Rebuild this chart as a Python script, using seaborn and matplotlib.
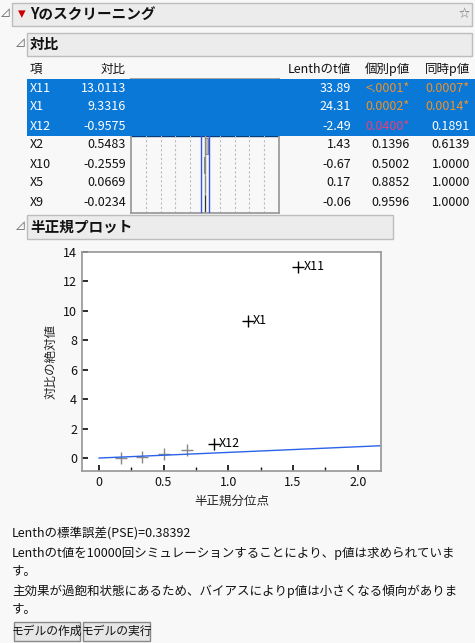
import numpy as np
import pandas as pd
import matplotlib
matplotlib.use("Agg")
import matplotlib.pyplot as plt
from matplotlib.patches import Rectangle
import seaborn as sns

terms = ["X11", "X1", "X12", "X2", "X10", "X5", "X9"]
contrasts = [13.0113, 9.3316, -0.9575, 0.5483, -0.2559, 0.0669, -0.0234]
lenth_t = ["33.89", "24.31", "-2.49", "1.43", "-0.67", "0.17", "-0.06"]
p_indiv = ["<.0001*", "0.0002*", "0.0400*", "0.1396", "0.5002", "0.8852", "0.9596"]
p_simul = ["0.0007*", "0.0014*", "0.1891", "0.6139", "1.0000", "1.0000", "1.0000"]
selected = [True, True, True, False, False, False, False]

# half-normal plot
hn_quantile = [1.54, 1.15, 0.89, 0.68, 0.50, 0.33, 0.17]
abs_contrast = [abs(c) for c in contrasts]
pse = 0.38392
line_x = [0.0, 2.2]

W, H = 475, 643
BG = "#F8F8F8"
BLUE = "#0A78D7"

sns.set_theme(style="white")
plt.rcParams["font.family"] = ["Noto Sans CJK JP", "DejaVu Sans"]
fig = plt.figure(figsize=(W / 100, H / 100), dpi=100, facecolor=BG)


def fx(x):
    return x / W


def fy(y):
    return 1 - y / H


def txt(x, y, s, ha="left", color="#111111", size=9, weight="normal"):
    fig.text(fx(x), fy(y), s, ha=ha, va="center", color=color, fontsize=size, fontweight=weight)


def header(x0, y0, x1, y1, label):
    fig.patches.append(Rectangle((fx(x0), fy(y1)), fx(x1 - x0), (y1 - y0) / H,
                                 transform=fig.transFigure, facecolor="#ECECEC",
                                 edgecolor="#BDBDBD", lw=1))
    txt(x0 - 12, (y0 + y1) / 2, "⊿", color="#666666", size=8)


# headers
header(12, 3, 472, 26, "")
txt(18, 14, "▾", color="#CC0000", size=11)
txt(30, 14, "Yのスクリーニング", size=10.5, weight="bold")
txt(464, 14, "☆", ha="center", color="#777777", size=8)
header(27, 33, 472, 56, "")
txt(30, 44, "対比", size=10.5, weight="bold")
header(27, 215, 393, 239, "")
txt(30, 227, "半正規プロット", size=10.5, weight="bold")

# table
row0, rh = 88, 19
fig.patches.append(Rectangle((fx(27), fy(row0 - 9.5 + 3 * rh)), fx(448), 3 * rh / H,
                             transform=fig.transFigure, facecolor=BLUE, edgecolor="none"))
txt(30, 69, "項")
txt(126, 69, "対比", ha="right")
txt(351, 69, "Lenthのt値", ha="right")
txt(410, 69, "個別p値", ha="right")
txt(470, 69, "同時p値", ha="right")
for i, t in enumerate(terms):
    y = row0 + i * rh
    c = "white" if selected[i] else "#111111"
    txt(30, y, t, color=c)
    txt(126, y, f"{contrasts[i]:.4f}", ha="right", color=c)
    txt(351, y, lenth_t[i], ha="right", color=c)
    pc = "#111111"
    if p_indiv[i].endswith("*"):
        pc = "#E8407A" if i == 2 else "#F0922A"
    txt(410, y, p_indiv[i], ha="right", color=pc)
    sc = "#F0922A" if p_simul[i].endswith("*") else c
    txt(470, y, p_simul[i], ha="right", color=sc)

axb = fig.add_axes([fx(131), fy(213), fx(148), 134 / H])
axb.set_facecolor("#F8F8F8")
df_bar = pd.DataFrame({"term": terms, "contrast": contrasts})
colors = ["#0A64B4" if s else "#BBBBBB" for s in selected]
axb.axhspan(-0.5, 2.5, color=BLUE, zorder=0)
for g in np.arange(-13, 13.01, 2.6):
    if abs(g) > 0.1 and abs(abs(g) - 13) > 0.1:
        axb.axvline(g, color="#BBBBBB", ls=(0, (2, 2)), lw=0.8, zorder=0.5)
sns.barplot(data=df_bar, x="contrast", y="term", hue="term", palette=colors,
            order=terms, orient="h", width=0.85, legend=False, ax=axb,
            edgecolor="#333333", linewidth=0.8, zorder=2)
for p, s in zip(axb.patches, selected):
    p.set_edgecolor("#0A3C78" if s else "#888888")
axb.axvline(0, color="#999999", lw=1, zorder=1)
axb.vlines([-0.75], 1.6, 6.5, color="#3355DD", lw=1, zorder=3)
axb.vlines([0.75], 0.0, 6.5, color="#3355DD", lw=1, zorder=3)
axb.set_xlim(-13.0, 13.0)
axb.set_ylim(6.5, -0.5)
axb.set_xticks([])
axb.set_yticks([])
axb.set_xlabel("")
axb.set_ylabel("")
for sp in axb.spines.values():
    sp.set_color("#999999")

# half-normal plot
ax = fig.add_axes([fx(82), fy(471), fx(299), 219 / H])
ax.set_facecolor("white")
df_hn = pd.DataFrame({"q": hn_quantile, "a": abs_contrast, "term": terms})
sig = df_hn.iloc[:3]
rest = df_hn.iloc[3:]
sns.scatterplot(data=sig, x="q", y="a", marker="+", s=80, color="black", linewidth=1, ax=ax)
sns.scatterplot(data=rest, x="q", y="a", marker="+", s=80, color="#888888", linewidth=1, ax=ax)
for _, r in sig.iterrows():
    ax.text(r["q"] + 0.04, r["a"], r["term"], va="center", fontsize=9, color="black")
sns.lineplot(x=line_x, y=[pse * v for v in line_x], color="#2B63E8", lw=1, ax=ax)
ax.set_xlim(-0.13, 2.18)
ax.set_ylim(-0.88, 13.9)
ax.set_xticks([0, 0.5, 1.0, 1.5, 2.0])
ax.set_xticklabels(["0", "0.5", "1.0", "1.5", "2.0"])
ax.set_xticks([0.25, 0.75, 1.25, 1.75], minor=True)
ax.set_yticks(range(0, 15, 2))
ax.tick_params(axis="both", which="both", direction="in", length=4, labelsize=9,
               bottom=True, left=True, colors="#111111")
ax.tick_params(axis="x", which="minor", length=3)
for sp in ax.spines.values():
    sp.set_color("#999999")
ax.set_xlabel("半正規分位点", fontsize=9)
ax.set_ylabel("対比の絶対値", fontsize=9)

# notes
notes = [
    "Lenthの標準誤差(PSE)=0.38392",
    "Lenthのt値を10000回シミュレーションすることにより、p値は求められていま",
    "す。",
    "主効果が過飽和状態にあるため、バイアスによりp値は小さくなる傾向がありま",
    "す。",
]
for i, s in enumerate(notes):
    txt(12, 534 + i * 19, s)

for x0, x1, s in [(14, 80, "モデルの作成"), (83, 150, "モデルの実行")]:
    fig.patches.append(Rectangle((fx(x0), fy(641)), fx(x1 - x0), 19 / H,
                                 transform=fig.transFigure, facecolor="#E6E6E6",
                                 edgecolor="#888888", lw=1))
    txt((x0 + x1) / 2, 631, s, ha="center", size=8.5)

fig.savefig("out.png", dpi=100, facecolor=BG)
